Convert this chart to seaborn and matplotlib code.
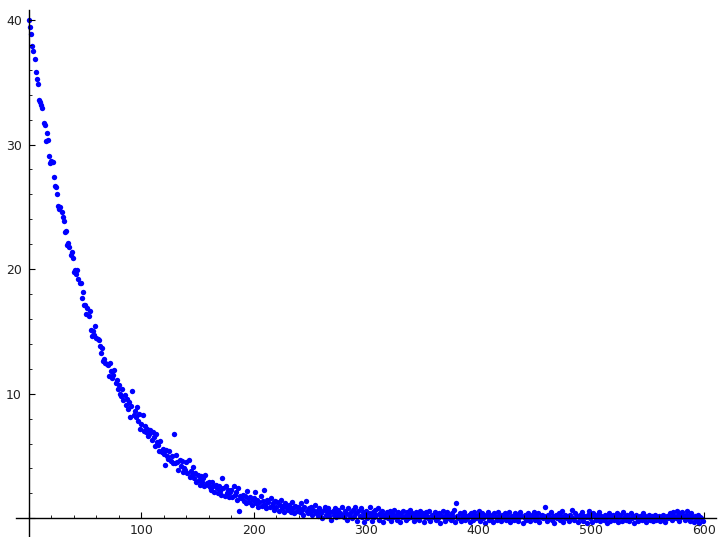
import matplotlib
matplotlib.use("Agg")
import matplotlib.pyplot as plt
import seaborn as sns
import pandas as pd
from matplotlib.ticker import MultipleLocator, FuncFormatter

# y values read (estimated) from the reference, one per x = 0..599
y_values = [
    40.0, 39.4, 38.9, 37.9, 37.5, 36.9, 35.8, 35.3, 34.9, 33.6,
    33.4, 33.2, 32.9, 31.7, 31.6, 30.3, 30.9, 30.4, 29.1, 28.5,
    28.7, 28.6, 27.4, 26.7, 26.6, 26.0, 25.1, 24.8, 25.0, 24.6,
    24.2, 23.9, 23.0, 23.1, 21.9, 22.1, 21.8, 21.1, 21.4, 20.9,
    19.8, 19.9, 19.6, 19.9, 19.2, 18.9, 18.9, 17.7, 18.2, 17.1,
    17.1, 16.4, 16.9, 16.2, 16.6, 15.1, 14.6, 15.0, 14.7, 15.4,
    14.5, 14.4, 14.3, 13.8, 13.3, 13.7, 12.6, 12.8, 12.5, 12.4,
    12.3, 11.4, 12.5, 11.8, 11.3, 11.5, 11.9, 10.9, 11.1, 10.4,
    10.7, 10.0, 9.8, 10.4, 9.5, 9.9, 9.1, 9.6, 8.8, 9.3,
    8.1, 9.0, 10.2, 8.3, 8.6, 8.1, 8.9, 7.8, 8.4, 7.2,
    7.6, 8.3, 7.0, 7.4, 6.9, 7.2, 6.6, 6.8, 7.1, 6.3,
    6.9, 6.5, 5.8, 6.8, 6.1, 5.9, 5.4, 6.2, 5.3, 5.6,
    5.2, 4.3, 5.5, 5.0, 4.8, 5.4, 4.6, 5.0, 4.4, 6.8,
    4.4, 5.1, 4.5, 3.9, 4.7, 4.2, 4.6, 3.7, 4.0, 3.9,
    4.5, 3.6, 4.7, 3.3, 3.8, 3.5, 4.1, 3.2, 3.6, 2.9,
    3.5, 3.1, 2.7, 3.4, 2.9, 3.2, 2.6, 3.5, 2.8, 2.7,
    2.9, 2.5, 2.3, 2.9, 2.6, 2.1, 2.7, 2.4, 2.0, 2.6,
    2.2, 1.9, 3.2, 2.4, 1.8, 2.6, 2.0, 2.3, 1.7, 2.1,
    2.3, 1.7, 2.6, 1.9, 2.1, 1.5, 2.4, 0.6, 1.8, 1.6,
    1.9, 1.4, 1.8, 1.2, 2.2, 1.6, 1.3, 1.7, 1.1, 1.5,
    1.6, 2.1, 1.2, 1.5, 0.9, 1.3, 1.8, 1.0, 1.4, 2.3,
    1.1, 0.8, 1.5, 1.3, 0.9, 1.6, 1.0, 1.2, 0.7, 1.4,
    0.9, 1.3, 0.6, 1.1, 1.5, 0.8, 1.0, 0.5, 1.2, 0.9,
    0.7, 1.1, 0.9, 0.5, 1.3, 0.8, 0.4, 1.0, 0.6, 0.9,
    0.8, 0.5, 1.2, 0.7, 0.3, 0.9, 1.4, 0.6, 0.4, 0.8,
    0.5, 0.9, 0.3, 0.7, 1.1, 0.4, 0.6, 0.2, 0.8, 0.6,
    0.4, 0.0, 0.7, 0.9, 0.3, 0.6, 0.8, 0.2, 0.5, -0.1,
    0.6, 0.3, 0.8, 0.1, 0.5, 0.7, 0.2, 0.4, 0.9, 0.3,
    0.1, 0.6, 0.4, -0.1, 0.8, 0.3, 0.5, 0.0, 0.7, 0.2,
    0.9, 0.4, -0.2, 0.6, 0.2, 0.8, 0.1, 0.5, -0.3, 0.3,
    0.6, 0.0, 0.4, 0.9, 0.2, -0.2, 0.5, 0.1, 0.7, 0.3,
    0.8, -0.1, 0.4, 0.2, 0.6, -0.3, 0.3, 0.1, 0.5, 0.0,
    0.2, 0.6, -0.2, 0.4, 0.1, 0.7, 0.3, -0.1, 0.5, 0.2,
    -0.3, 0.4, 0.1, 0.6, 0.2, -0.1, 0.5, 0.0, 0.3, 0.7,
    0.1, 0.4, -0.2, 0.2, 0.5, 0.0, 0.3, -0.1, 0.6, 0.2,
    0.4, -0.3, 0.1, 0.5, 0.2, 0.0, 0.6, -0.2, 0.3, 0.1,
    0.2, 0.5, -0.1, 0.3, 0.0, 0.4, -0.4, 0.2, 0.6, 0.1,
    -0.2, 0.3, 0.5, 0.0, 0.2, -0.1, 0.4, 0.1, 0.7, -0.3,
    1.2, 0.2, 0.0, 0.4, -0.2, 0.3, 0.1, 0.5, -0.1, 0.2,
    0.0, 0.3, -0.3, 0.4, 0.1, -0.1, 0.5, 0.2, 0.0, 0.3,
    0.6, -0.2, 0.1, 0.4, 0.0, 0.3, -0.4, 0.2, 0.5, -0.1,
    0.3, 0.0, 0.2, -0.3, 0.4, 0.1, -0.1, 0.5, 0.2, 0.0,
    -0.2, 0.3, 0.1, 0.4, -0.1, 0.2, 0.0, 0.5, -0.3, 0.1,
    0.2, -0.1, 0.4, 0.0, 0.3, -0.2, 0.1, 0.5, 0.2, -0.4,
    0.1, 0.3, -0.1, 0.2, 0.4, 0.0, -0.2, 0.3, 0.1, 0.5,
    -0.1, 0.2, 0.0, 0.4, -0.3, 0.1, 0.3, 0.0, 0.2, 0.9,
    0.1, -0.2, 0.3, 0.0, 0.5, -0.1, 0.2, -0.4, 0.1, 0.3,
    0.0, 0.4, -0.1, 0.2, 0.6, -0.3, 0.1, 0.3, 0.0, 0.2,
    -0.2, 0.3, 0.1, 0.7, 0.0, -0.1, 0.4, 0.2, -0.3, 0.1,
    0.3, 0.0, 0.5, -0.2, 0.2, 0.1, -0.4, 0.3, 0.6, 0.0,
    0.2, -0.3, 0.4, 0.1, -0.1, 0.3, 0.0, 0.5, -0.2, 0.2,
    0.1, -0.1, 0.3, 0.0, -0.4, 0.2, 0.4, -0.2, 0.1, 0.3,
    -0.1, 0.2, 0.0, 0.4, -0.3, 0.1, 0.3, -0.2, 0.5, 0.0,
    0.2, -0.1, 0.3, 0.1, -0.2, 0.4, 0.0, 0.2, -0.4, 0.1,
    0.3, 0.0, -0.2, 0.2, 0.1, -0.1, 0.4, 0.0, 0.2, -0.3,
    0.1, 0.3, -0.1, 0.0, 0.2, -0.2, 0.1, 0.3, -0.1, 0.0,
    0.2, -0.2, 0.1, 0.0, 0.3, -0.1, -0.3, 0.2, 0.0, 0.1,
    0.4, 0.1, -0.1, 0.5, 0.2, 0.0, 0.6, 0.3, -0.2, 0.4,
    0.1, 0.5, 0.2, -0.1, 0.3, 0.6, 0.0, 0.2, -0.2, 0.4,
    0.1, -0.3, 0.2, 0.0, -0.1, 0.3, -0.4, 0.1, 0.0, -0.2,
]
x_values = list(range(len(y_values)))

df = pd.DataFrame({"x": x_values, "y": y_values})

fig = plt.figure(figsize=(7.18, 5.37), dpi=100)
ax = fig.add_axes([16 / 718, 1 / 537, 700 / 718, 526 / 537])

sns.scatterplot(data=df, x="x", y="y", ax=ax, color="#0000ff",
                s=15, linewidth=0, legend=False)

ax.set_xlim(-11.5, 611)
ax.set_ylim(-1.42, 40.8)

ax.spines["left"].set_position(("data", 0))
ax.spines["bottom"].set_position(("data", 0))
ax.spines["top"].set_visible(False)
ax.spines["right"].set_visible(False)
for sp in ("left", "bottom"):
    ax.spines[sp].set_color("black")
    ax.spines[sp].set_linewidth(1.0)

ax.xaxis.set_major_locator(MultipleLocator(100))
ax.xaxis.set_minor_locator(MultipleLocator(20))
ax.yaxis.set_major_locator(MultipleLocator(10))
ax.yaxis.set_minor_locator(MultipleLocator(2))

fmt = FuncFormatter(lambda v, p: "" if abs(v) < 1e-9 else f"{v:g}")
ax.xaxis.set_major_formatter(fmt)
ax.yaxis.set_major_formatter(fmt)

ax.tick_params(which="major", direction="in", length=4, width=0.8,
               labelsize=9, colors="black")
ax.tick_params(which="minor", direction="in", length=2, width=0.6)
ax.tick_params(axis="x", which="major", labelcolor="#222222", pad=4)
ax.tick_params(axis="y", which="major", labelcolor="#222222", pad=5)

ax.set_xlabel("")
ax.set_ylabel("")
ax.patch.set_visible(False)

fig.savefig("out.png", dpi=100)
